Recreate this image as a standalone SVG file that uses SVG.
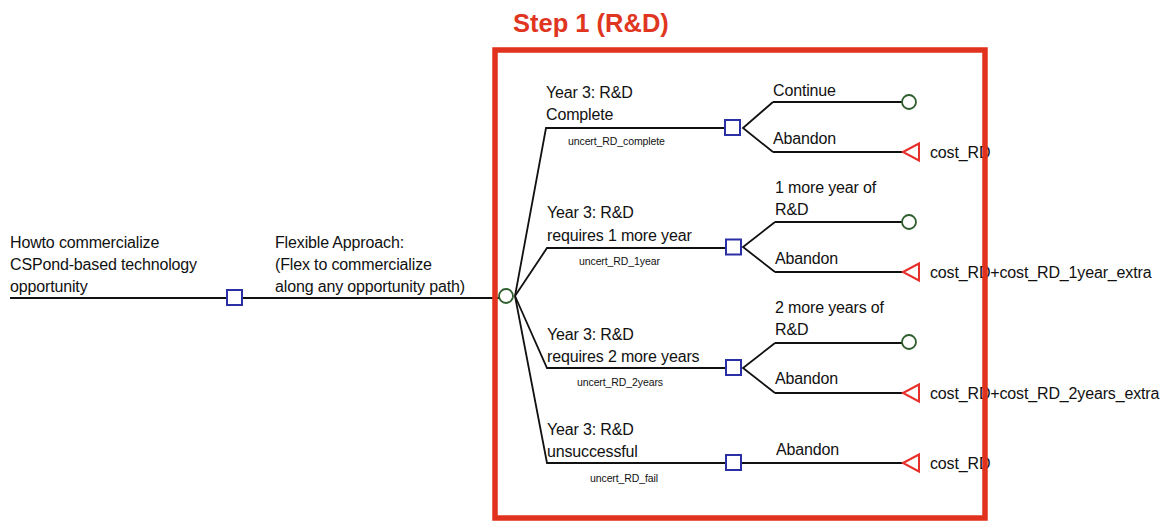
<svg xmlns="http://www.w3.org/2000/svg" width="1163" height="523" viewBox="0 0 1163 523">
  <style>
    .lbl { font-family: "Liberation Sans", Arial, sans-serif; font-size: 16px; letter-spacing: -0.15px; fill: #111; }
    .prob { font-family: "Liberation Sans", Arial, sans-serif; font-size: 10.5px; letter-spacing: -0.1px; fill: #111; }
    .title { font-family: "Liberation Sans", Arial, sans-serif; font-size: 25.5px; font-weight: bold; fill: #e0361f; }
    .edge { fill: none; stroke: #111; stroke-width: 1.8; stroke-linejoin: miter; }
    .decision { fill: #fff; stroke: #2b2fa6; stroke-width: 2; }
    .chance { fill: #fff; stroke: #2e5e2e; stroke-width: 1.8; }
    .terminal { fill: #fff; stroke: #e8302a; stroke-width: 2; }
    .frame { fill: none; stroke: #e0321c; stroke-width: 5.5; }
  </style>
  <rect width="1163" height="523" fill="#fff"/>

  <!-- branches of the tree -->
  <g id="connectors">
    <path class="edge" d="M10 298 H227 M242 298 H499"/>
    <!-- chance fan -->
    <path class="edge" d="M515 296 L546 128 H725"/>
    <path class="edge" d="M515 296 L547 248 H726"/>
    <path class="edge" d="M515 296 L547 368 H726"/>
    <path class="edge" d="M515 296 L547 463 H726"/>
    <!-- decision fans -->
    <path class="edge" d="M773 102 L743 128 L773 152"/>
    <path class="edge" d="M773 102 H902 M773 152 H903"/>
    <path class="edge" d="M775 222 L743 247 L775 272"/>
    <path class="edge" d="M775 222 H902 M775 272 H903"/>
    <path class="edge" d="M775 343 L743 368 L775 393"/>
    <path class="edge" d="M775 343 H902 M775 393 H903"/>
    <path class="edge" d="M741 463 H903"/>
  </g>

  <!-- root decision -->
  <g id="root">
    <text class="lbl" x="10" y="248">Howto commercialize</text>
    <text class="lbl" x="10" y="270">CSPond-based technology</text>
    <text class="lbl" x="10" y="292">opportunity</text>
    <rect class="decision" x="227" y="290" width="15" height="15"/>
  </g>

  <!-- flexible approach chance node -->
  <g id="flexible">
    <text class="lbl" x="275" y="248">Flexible Approach:</text>
    <text class="lbl" x="275" y="270">(Flex to commercialize</text>
    <text class="lbl" x="275" y="292">along any opportunity path)</text>
    <circle class="chance" cx="506" cy="296" r="7"/>
  </g>

  <g id="rd-complete">
    <text class="lbl" x="546" y="98">Year 3: R&amp;D</text>
    <text class="lbl" x="546" y="120">Complete</text>
    <text class="prob" x="568" y="145">uncert_RD_complete</text>
    <rect class="decision" x="725" y="120" width="15" height="15"/>
  </g>
  <g id="rd-complete-continue">
    <text class="lbl" x="773" y="96">Continue</text>
    <circle class="chance" cx="909" cy="102" r="7"/>
  </g>
  <g id="rd-complete-abandon">
    <text class="lbl" x="773" y="144">Abandon</text>
    <polygon class="terminal" points="903,152 919,143.5 919,160.5"/>
    <text class="lbl" x="930" y="158">cost_RD</text>
  </g>

  <g id="rd-1year">
    <text class="lbl" x="547" y="218">Year 3: R&amp;D</text>
    <text class="lbl" x="547" y="241">requires 1 more year</text>
    <text class="prob" x="579" y="265">uncert_RD_1year</text>
    <rect class="decision" x="726" y="239.5" width="15" height="15"/>
  </g>
  <g id="rd-1year-continue">
    <text class="lbl" x="775" y="193">1 more year of</text>
    <text class="lbl" x="775" y="215">R&amp;D</text>
    <circle class="chance" cx="909" cy="222" r="7"/>
  </g>
  <g id="rd-1year-abandon">
    <text class="lbl" x="775" y="264">Abandon</text>
    <polygon class="terminal" points="903,272 919,263.5 919,280.5"/>
    <text class="lbl" x="930" y="278">cost_RD+cost_RD_1year_extra</text>
  </g>

  <g id="rd-2years">
    <text class="lbl" x="547" y="340">Year 3: R&amp;D</text>
    <text class="lbl" x="547" y="362">requires 2 more years</text>
    <text class="prob" x="577" y="386">uncert_RD_2years</text>
    <rect class="decision" x="726" y="360" width="15" height="15"/>
  </g>
  <g id="rd-2years-continue">
    <text class="lbl" x="775" y="313">2 more years of</text>
    <text class="lbl" x="775" y="335">R&amp;D</text>
    <circle class="chance" cx="909" cy="342" r="7"/>
  </g>
  <g id="rd-2years-abandon">
    <text class="lbl" x="775" y="384">Abandon</text>
    <polygon class="terminal" points="903,393 919,384.5 919,401.5"/>
    <text class="lbl" x="930" y="399">cost_RD+cost_RD_2years_extra</text>
  </g>

  <g id="rd-fail">
    <text class="lbl" x="547" y="435">Year 3: R&amp;D</text>
    <text class="lbl" x="547" y="457">unsuccessful</text>
    <text class="prob" x="590" y="482">uncert_RD_fail</text>
    <rect class="decision" x="726" y="455" width="15" height="15"/>
  </g>
  <g id="rd-fail-abandon">
    <text class="lbl" x="776" y="455">Abandon</text>
    <polygon class="terminal" points="903,463 919,454.5 919,471.5"/>
    <text class="lbl" x="930" y="469">cost_RD</text>
  </g>

  <!-- step frame, drawn over the tree -->
  <g id="step1">
    <text class="title" x="513" y="32">Step 1 (R&amp;D)</text>
    <rect class="frame" x="495" y="50" width="490" height="468"/>
  </g>
</svg>
